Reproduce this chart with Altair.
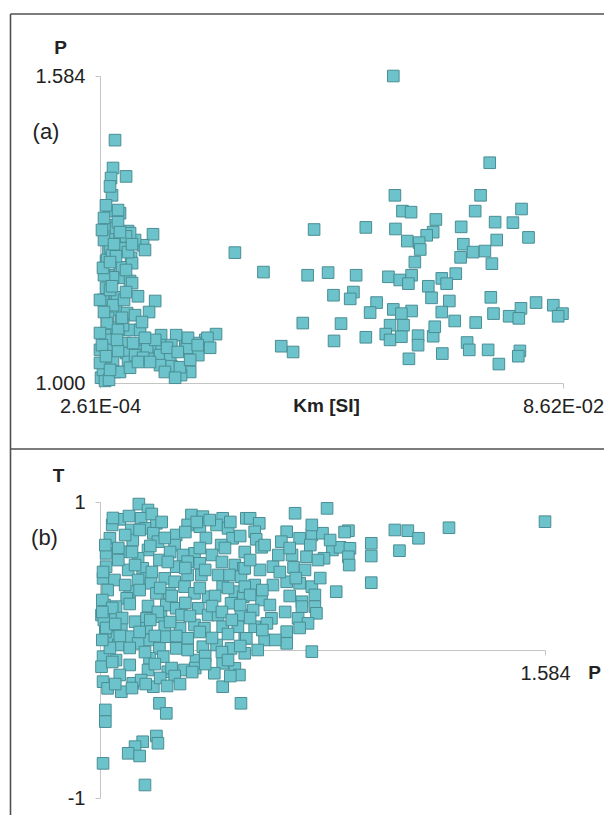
import altair as alt
import pandas as pd

# ---------------- Panel (a): P vs Km (Km in units of 1E-03 SI) ----------------
km_a = [3.05, 2.68, 2.31, 5.10, 2.49, 1.93, 3.98, 1.75, 3.61, 5.47, 10.1, 8.26, 4.17, 1.75, 1.75,
        4.54, 6.77, 6.03, 1.38, 3.98, 1.75, 4.17, 5.84, 1.38, 3.05, 0.82, 10.5, 9.37, 3.24, 5.28,
        1.75, 4.17, 5.84, 2.31, 1.19, 11.6, 14.4, 21.8, 19.8, 17.9, 16.1, 13.5, 11.4, 9.56, 6.95,
        4.91, 2.12, 1.75, 5.10, 7.33, 9.19, 11.4, 13.3, 18.5, 13.5, 15.3, 17.0, 15.3, 2.68, 1.19,
        0.45, 1.19, 5.47, 6.77, 3.61, 5.84, 4.54, 2.12, 1.56, 4.35, 6.21, 2.68, 6.21, 3.42, 1.56,
        4.54, 6.40, 9.00, 20.2, 16.4, 12.7, 0.82, 0.26, 0.26, 0.26, 0.26, 15.1, 2.12, 1.00, 2.49,
        1.00, 3.24, 1.00, 2.68, 4.72, 7.70, 0.63, 3.05, 1.93, 8.26,
        1.37, 3.60, 5.09, 2.86, 5.46, 3.23, 0.82, 5.09, 2.49, 5.09, 7.31, 1.00, 6.76, 3.60, 8.06,
        3.42, 10.5, 8.61, 16.6, 14.7, 17.0, 11.4, 9.54, 12.3, 14.2, 3.97, 2.12, 5.83, 7.31, 1.37,
        4.34, 2.12, 3.97, 6.20, 0.63, 2.12, 8.61, 18.4, 20.7,
        54.7, 72.6, 55.0, 70.9, 56.4, 58.0, 78.5, 69.9, 62.6, 73.6, 76.9, 40.0, 49.6, 55.1, 67.3,
        62.1, 60.9, 79.8, 57.3, 59.5, 73.9, 67.7, 59.7, 71.7, 69.5, 67.2, 25.3, 73.0, 58.7, 30.6,
        38.8, 42.6, 47.8, 53.8, 55.9, 58.1, 57.5, 63.7, 66.3, 64.6, 61.2, 43.6, 47.3, 46.7, 61.8,
        65.1, 72.8, 51.6, 50.4, 54.7, 58.1, 56.2, 63.7, 66.1, 70.0, 73.3, 76.2, 78.4, 78.0, 81.2,
        84.4, 86.1, 85.3, 37.9, 45.0, 54.1, 56.6, 53.3, 54.1, 56.2, 59.3, 62.1, 62.4, 49.6, 43.7,
        33.9, 36.1, 59.3, 68.4, 68.8, 72.3, 78.2, 77.9, 57.6, 63.8, 74.3]
p_a = [1.462, 1.409, 1.390, 1.393, 1.357, 1.327, 1.323, 1.300, 1.329, 1.289, 1.283, 1.262, 1.270, 1.276, 1.253,
       1.253, 1.272, 1.238, 1.232, 1.219, 1.205, 1.200, 1.194, 1.181, 1.162, 1.158, 1.156, 1.135, 1.139, 1.133,
       1.124, 1.118, 1.101, 1.105, 1.091, 1.091, 1.091, 1.093, 1.082, 1.076, 1.070, 1.072, 1.072, 1.068, 1.072,
       1.076, 1.082, 1.063, 1.057, 1.061, 1.048, 1.053, 1.048, 1.053, 1.032, 1.029, 1.021, 1.015, 1.044, 1.029,
       1.010, 1.004, 1.040, 1.053, 1.061, 1.285, 1.256, 1.258, 1.234, 1.220, 1.228, 1.201, 1.190, 1.163, 1.114,
       1.110, 1.076, 1.068, 1.086, 1.067, 1.067, 1.025, 1.038, 1.063, 1.095, 1.158, 1.030, 1.177, 1.205, 1.243,
       1.272, 1.295, 1.314, 1.148, 1.158, 1.101, 1.072, 1.021, 1.006, 1.048,
       1.338, 1.306, 1.279, 1.264, 1.249, 1.241, 1.219, 1.215, 1.184, 1.173, 1.165, 1.135, 1.129, 1.101, 1.116,
       1.082, 1.082, 1.086, 1.086, 1.059, 1.044, 1.034, 1.040, 1.021, 1.010, 1.021, 1.025, 1.029, 1.040, 1.051,
       1.124, 1.230, 1.287, 1.264, 1.291, 1.374, 1.253, 1.072, 1.067,
       1.584, 1.419, 1.357, 1.357, 1.327, 1.325, 1.331, 1.327, 1.311, 1.306, 1.305, 1.292, 1.296, 1.293, 1.297,
       1.287, 1.281, 1.277, 1.270, 1.267, 1.272, 1.264, 1.254, 1.251, 1.249, 1.239, 1.248, 1.227, 1.230, 1.211,
       1.205, 1.210, 1.205, 1.202, 1.196, 1.205, 1.189, 1.199, 1.208, 1.189, 1.184, 1.167, 1.173, 1.160, 1.162,
       1.156, 1.163, 1.153, 1.134, 1.140, 1.137, 1.132, 1.135, 1.118, 1.115, 1.132, 1.127, 1.142, 1.123, 1.153,
       1.148, 1.132, 1.127, 1.114, 1.113, 1.110, 1.110, 1.093, 1.082, 1.088, 1.090, 1.089, 1.107, 1.087, 1.080,
       1.070, 1.059, 1.072, 1.077, 1.063, 1.063, 1.061, 1.051, 1.046, 1.056, 1.036]

a_x_domain = [0.261, 86.2]
a_x_tick_labels = ["2.61E-04", "8.62E-02"]
a_y_domain = [1.000, 1.584]

# ---------------- Panel (b): T vs P ----------------
p_b = [1.051, 1.063, 1.026, 1.016, 1.054, 1.074, 1.120, 1.135, 1.161, 1.192, 1.115, 1.131, 1.153, 1.168, 1.041,
       1.059, 1.070, 1.013, 1.043, 1.076, 1.100, 1.174, 1.159, 1.098, 1.063, 1.078, 1.028, 1.008, 1.050, 1.124,
       1.109, 1.131, 1.115, 1.008, 1.037, 1.056, 1.100, 1.177, 1.188, 1.004, 1.019, 1.061, 1.085, 1.098, 1.115,
       1.133, 1.155, 1.170, 1.185, 1.050, 1.067, 1.111, 1.161, 1.039, 1.074, 1.091, 1.124, 1.142, 1.177, 1.188,
       1.035, 1.172, 1.006, 1.021, 1.087, 1.100, 1.129, 1.002, 1.015, 1.046, 1.061, 1.080, 1.107, 1.142, 1.155,
       1.185, 1.010, 1.028, 1.061, 1.085, 1.105, 1.124, 1.137, 1.161, 1.181, 1.017, 1.039, 1.063, 1.087, 1.115,
       1.153, 1.190, 1.024, 1.050, 1.078, 1.100, 1.135, 1.172, 1.004, 1.021, 1.065, 1.083, 1.126, 1.161, 1.002,
       1.063, 1.089, 1.111, 1.150, 1.177, 1.183, 1.004, 1.010, 1.028, 1.043, 1.054, 1.070, 1.161, 1.078, 1.087,
       1.185, 1.007, 1.007, 1.074, 1.056, 1.076, 1.046, 1.037, 1.052, 1.004, 1.059,
       1.197, 1.209, 1.256, 1.298, 1.203, 1.205, 1.212, 1.245, 1.238, 1.262, 1.278, 1.292, 1.276, 1.305, 1.315,
       1.326, 1.328, 1.326, 1.327, 1.356, 1.356, 1.356, 1.387, 1.404, 1.418, 1.393, 1.458, 1.584, 1.310, 1.278,
       1.252, 1.271, 1.294, 1.254, 1.269, 1.227, 1.210, 1.190, 1.245, 1.262, 1.278, 1.227, 1.203, 1.190, 1.212,
       1.265, 1.282, 1.282, 1.284, 1.260, 1.273, 1.201, 1.225, 1.203, 1.219, 1.245, 1.245, 1.216, 1.192, 1.190,
       1.265,
       1.017, 1.038, 1.068, 1.081, 1.127, 1.144, 1.171, 1.033, 1.052, 1.085, 1.112, 1.139, 1.184, 1.007, 1.024,
       1.042, 1.066, 1.092, 1.131, 1.147, 1.164, 1.190, 1.004, 1.024, 1.046, 1.068, 1.089, 1.112, 1.138, 1.160,
       1.197, 1.010, 1.033, 1.052, 1.079, 1.094, 1.131, 1.151, 1.168, 1.197, 1.003, 1.016, 1.039, 1.063, 1.076,
       1.112, 1.147, 1.160, 1.184, 1.005, 1.029, 1.066, 1.092, 1.118, 1.173, 1.197, 1.007, 1.026, 1.052, 1.072,
       1.100, 1.131, 1.147, 1.168, 1.013, 1.039, 1.059, 1.115, 1.138, 1.160, 1.184, 1.016, 1.039, 1.072, 1.094,
       1.125, 1.138, 1.168, 1.026, 1.079, 1.098, 1.121, 1.171, 1.020, 1.042, 1.060, 1.088, 1.105, 1.003, 1.008,
       1.020, 1.003, 1.216, 1.234, 1.249, 1.286, 1.236, 1.257, 1.289, 1.213, 1.249, 1.223, 1.243, 1.213, 1.262,
       1.230, 1.207, 1.302, 1.321, 1.278]
t_b = [0.986, 0.946, 0.883, 0.845, 0.890, 0.856, 0.912, 0.901, 0.890, 0.890, 0.845, 0.833, 0.845, 0.822, 0.811,
       0.822, 0.789, 0.755, 0.743, 0.732, 0.777, 0.755, 0.709, 0.709, 0.676, 0.608, 0.664, 0.653, 0.620, 0.653,
       0.642, 0.586, 0.597, 0.563, 0.541, 0.552, 0.563, 0.574, 0.552, 0.484, 0.473, 0.484, 0.484, 0.461, 0.507,
       0.507, 0.507, 0.507, 0.495, 0.473, 0.451, 0.428, 0.428, 0.394, 0.383, 0.383, 0.383, 0.360, 0.394, 0.360,
       0.349, 0.316, 0.304, 0.293, 0.304, 0.282, 0.282, 0.236, 0.225, 0.191, 0.214, 0.225, 0.236, 0.236, 0.236,
       0.236, 0.157, 0.157, 0.147, 0.157, 0.147, 0.169, 0.147, 0.157, 0.157, 0.090, 0.090, 0.068, 0.090, 0.079,
       0.034, 0.079, 0.034, 0.045, 0.011, 0.011, 0.022, 0.011, -0.045, -0.068, -0.056, -0.045, -0.068, -0.090, -0.113,
       -0.135, -0.147, -0.135, -0.157, -0.124, -0.169, -0.214, -0.259, -0.282, -0.225, -0.203, -0.248, -0.248, -0.360, -0.428,
       -0.360, -0.405, -0.484, -0.581, -0.620, -0.630, -0.653, -0.698, -0.716, -0.766, -0.912,
       0.890, 0.856, 0.924, 0.957, 0.799, 0.748, 0.694, 0.799, 0.732, 0.755, 0.777, 0.789, 0.709, 0.676, 0.694,
       0.806, 0.687, 0.630, 0.574, 0.721, 0.635, 0.455, 0.811, 0.806, 0.755, 0.671, 0.826, 0.867, 0.394, -0.011,
       0.642, 0.630, 0.620, 0.558, 0.541, 0.563, 0.541, 0.552, 0.461, 0.451, 0.428, 0.439, 0.439, 0.428, 0.338,
       0.326, 0.372, 0.293, 0.248, 0.214, 0.180, 0.270, 0.214, 0.157, 0.180, 0.124, 0.045, 0.068, 0.079, -0.022,
       0.293,
       0.892, 0.905, 0.919, 0.865, 0.865, 0.878, 0.865, 0.777, 0.811, 0.757, 0.797, 0.757, 0.770, 0.709, 0.689,
       0.662, 0.703, 0.662, 0.689, 0.642, 0.689, 0.662, 0.527, 0.608, 0.574, 0.527, 0.595, 0.554, 0.541, 0.595,
       0.608, 0.405, 0.439, 0.405, 0.419, 0.365, 0.419, 0.365, 0.419, 0.372, 0.338, 0.284, 0.311, 0.297, 0.257,
       0.318, 0.297, 0.257, 0.304, 0.203, 0.216, 0.203, 0.189, 0.230, 0.203, 0.216, 0.122, 0.095, 0.122, 0.095,
       0.095, 0.122, 0.081, 0.108, 0.014, 0.014, -0.014, 0.000, -0.041, -0.014, 0.027, -0.081, -0.101, -0.095, -0.122,
       -0.122, -0.095, -0.068, -0.169, -0.189, -0.176, -0.149, -0.176, -0.230, -0.257, -0.230, -0.243, -0.230, 0.257, 0.149,
       0.176, 0.068, 0.709, 0.642, 0.689, 0.608, 0.527, 0.486, 0.486, 0.405, 0.365, 0.304, 0.257, 0.135, 0.149,
       0.068, 0.000, 0.743, 0.797, 0.845]

b_x_domain = [1.000, 1.584]
b_y_domain = [-1, 1]
b_y_tick_labels = ["-1", "1"]

panel_labels = ["(a)", "(b)"]

# ---------------- styling ----------------
W, H = 596, 807
FONT = "Liberation Sans"
FILL = "#6DC3CB"
EDGE = "#4A8D93"
AXC = "#c4c4c4"
TXT = "#222222"

df_a = pd.DataFrame({"Km": km_a, "P": p_a})
df_b = pd.DataFrame({"P": p_b, "T": t_b})

common_axis = dict(
    grid=False, labelFont=FONT, labelFontSize=20, labelColor=TXT,
    titleFont=FONT, titleFontSize=19, titleFontWeight="bold", titleColor=TXT,
    domainColor=AXC, tickColor=AXC, tickSize=5, labelFlush=False,
    labelOverlap=False, titleAngle=0,
)

x_a_expr = f"datum.value < 1 ? '{a_x_tick_labels[0]}' : '{a_x_tick_labels[1]}'"
y_b_expr = f"datum.value < 0 ? '{b_y_tick_labels[0]}' : '{b_y_tick_labels[1]}'"

SQ = 135

pts_a = alt.Chart(df_a).mark_square(size=SQ, fill=FILL, stroke=EDGE, strokeWidth=1, opacity=1).encode(
    x=alt.X("Km:Q", scale=alt.Scale(domain=a_x_domain, range=[92, 555], zero=False, nice=False),
            axis=alt.Axis(orient="bottom", offset=375 - H, values=a_x_domain, labelExpr=x_a_expr,
                          labelPadding=8, title="Km [SI]", titleX=318, titleY=13.5,
                          titleBaseline="top", titleAlign="center", **common_axis)),
    y=alt.Y("P:Q", scale=alt.Scale(domain=a_y_domain, range=[375, 68], zero=False, nice=False),
            axis=alt.Axis(orient="left", offset=-92, values=a_y_domain, format=".3f",
                          labelPadding=10, title="P", titleX=-40, titleY=39.5,
                          titleBaseline="middle", titleAlign="center", **common_axis)),
)

pts_b = alt.Chart(df_b).mark_square(size=SQ, fill=FILL, stroke=EDGE, strokeWidth=1, opacity=1).encode(
    x=alt.X("P:Q", scale=alt.Scale(domain=b_x_domain, range=[92, 537], zero=False, nice=False),
            axis=alt.Axis(orient="bottom", offset=642 - H, values=[b_x_domain[1]], format=".3f",
                          labelPadding=8, title="P", titleX=586, titleY=13.5,
                          titleBaseline="top", titleAlign="center", **common_axis)),
    y=alt.Y("T:Q", scale=alt.Scale(domain=b_y_domain, range=[790, 494], zero=False, nice=False),
            axis=alt.Axis(orient="left", offset=-92, values=b_y_domain, labelExpr=y_b_expr,
                          labelPadding=10, title="T", titleX=-42, titleY=467,
                          titleBaseline="middle", titleAlign="center", **common_axis)),
)

lab_a = alt.Chart(pd.DataFrame({"t": [panel_labels[0]]})).mark_text(
    font=FONT, fontSize=22, color=TXT, align="center", baseline="middle"
).encode(text="t:N", x=alt.value(38), y=alt.value(124))

lab_b = alt.Chart(pd.DataFrame({"t": [panel_labels[1]]})).mark_text(
    font=FONT, fontSize=22, color=TXT, align="center", baseline="middle"
).encode(text="t:N", x=alt.value(36.5), y=alt.value(530))

FR = "#505050"
frame_top = alt.Chart(pd.DataFrame({"k": [0]})).mark_rule(color=FR, strokeWidth=1.6).encode(
    x=alt.value(2.5), x2=alt.value(W), y=alt.value(6))
frame_mid = alt.Chart(pd.DataFrame({"k": [0]})).mark_rule(color=FR, strokeWidth=1.6).encode(
    x=alt.value(2.5), x2=alt.value(W), y=alt.value(441))
frame_left = alt.Chart(pd.DataFrame({"k": [0]})).mark_rule(color=FR, strokeWidth=1.6).encode(
    x=alt.value(2.5), y=alt.value(6), y2=alt.value(H))

chart = alt.layer(
    frame_top, frame_mid, frame_left, pts_a, pts_b, lab_a, lab_b
).resolve_scale(
    x="independent", y="independent"
).properties(
    width=W, height=H, padding=0, autosize=alt.AutoSizeParams(type="none"),
    background="white",
).configure_view(stroke=None)

chart.save("out.html", embed_options={"renderer": "svg", "actions": False})
